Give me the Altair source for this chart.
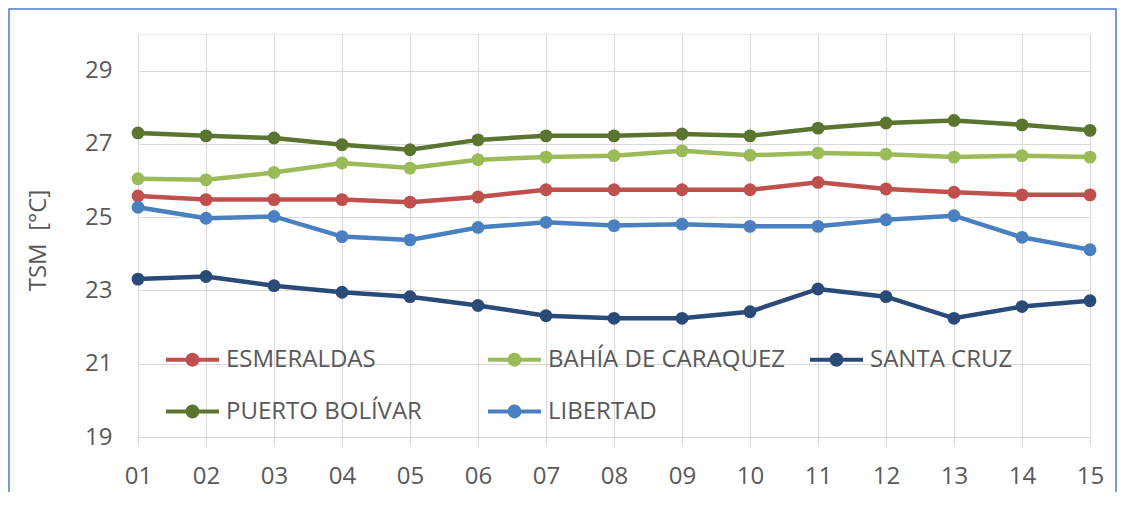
import altair as alt
import pandas as pd

dias = ["01", "02", "03", "04", "05", "06", "07", "08", "09", "10", "11", "12", "13", "14", "15"]
esmeraldas = [25.58, 25.48, 25.48, 25.48, 25.41, 25.55, 25.75, 25.75, 25.75, 25.75, 25.95, 25.77, 25.68, 25.61, 25.61]
bahia = [26.05, 26.02, 26.22, 26.48, 26.34, 26.57, 26.64, 26.68, 26.81, 26.69, 26.75, 26.72, 26.64, 26.68, 26.64]
santa_cruz = [23.31, 23.38, 23.13, 22.95, 22.83, 22.59, 22.31, 22.24, 22.24, 22.42, 23.04, 22.83, 22.24, 22.56, 22.72]
puerto_bolivar = [27.30, 27.22, 27.16, 26.98, 26.84, 27.11, 27.22, 27.22, 27.27, 27.22, 27.43, 27.57, 27.64, 27.52, 27.37]
libertad = [25.27, 24.97, 25.02, 24.47, 24.38, 24.72, 24.86, 24.77, 24.81, 24.75, 24.75, 24.93, 25.04, 24.45, 24.11]

series_names = ["ESMERALDAS", "BAHÍA DE CARAQUEZ", "SANTA CRUZ", "PUERTO BOLÍVAR", "LIBERTAD"]
series_values = [esmeraldas, bahia, santa_cruz, puerto_bolivar, libertad]
series_colors = ["#C0504D", "#9BBB59", "#2A4B78", "#5B7430", "#4B80C0"]
y_ticks = [19, 21, 23, 25, 27, 29]

rows = []
for k, (name, vals) in enumerate(zip(series_names, series_values)):
    for d, v in zip(dias, vals):
        rows.append({"dia": d, "serie": name, "tsm": v, "orden": k})
df = pd.DataFrame(rows)

FONT = "Open Sans"
TXT = "#595959"
GRID = "#D9D9D9"

# legend symbol: thick line with a dot, in unit coordinates
sym = ("M-1,-0.08 L1,-0.08 L1,0.08 L-1,0.08 Z "
       "M0.26,0 A0.26,0.26 0 1,1 -0.26,0 A0.26,0.26 0 1,1 0.26,0 Z")

color_scale = alt.Scale(domain=series_names, range=series_colors)
legend = alt.Legend(title=None, orient="none", legendX=28, legendY=299,
                    direction="horizontal",
                    columns=3, gridAlign="all", columnPadding=25,
                    rowPadding=13, padding=0, symbolType=sym,
                    symbolSize=2809, symbolStrokeWidth=0,
                    labelFontSize=24, labelColor=TXT, labelFont=FONT,
                    labelOffset=7, labelLimit=400)
color_enc = alt.Color("serie:N", scale=color_scale, legend=legend)

x_enc = alt.X("dia:O", scale=alt.Scale(type="point", padding=0),
              axis=alt.Axis(title=None, labelAngle=0, grid=True, gridColor=GRID,
                            tickColor=GRID, tickSize=9, domainColor=GRID,
                            labelPadding=18, labelFontSize=24))
y_enc = alt.Y("tsm:Q", scale=alt.Scale(domain=[19, 30], nice=False, zero=False),
              axis=alt.Axis(title="TSM\u00a0 [°C]", values=y_ticks, grid=True, gridColor=GRID,
                            ticks=False, domain=False, labelPadding=26, labelFontSize=24,
                            titleFontSize=24, titleFontWeight="normal", titleColor=TXT,
                            titleX=-100, titleY=206, titleAngle=270, titleBaseline="middle",
                            titleAlign="center"))

base = alt.Chart(df)

lines = base.mark_line(strokeWidth=4.5).encode(
    x=x_enc, y=y_enc, color=color_enc, order=alt.Order("orden:Q"),
)

points = base.mark_circle(size=165, opacity=1).encode(
    x=x_enc, y=y_enc, color=color_enc,
)

border = alt.Chart(alt.Data(values=[{}])).mark_rect(
    fillOpacity=0, stroke="#4A7CCB", strokeWidth=1.5
).encode(
    x=alt.value(-129), x2=alt.value(978), y=alt.value(-25), y2=alt.value(490)
)

chart = alt.layer(lines, points, border).properties(
    width=952, height=403,
    autosize=alt.AutoSizeParams(type="none"),
    padding={"left": 130, "top": 26, "right": 28, "bottom": 55},
).configure(font=FONT).configure_axis(
    labelFont=FONT, labelColor=TXT, titleFont=FONT
).configure_view(stroke="#EEEEEE", strokeWidth=1)

chart.save("out.html", embed_options={"renderer": "svg", "actions": False})
